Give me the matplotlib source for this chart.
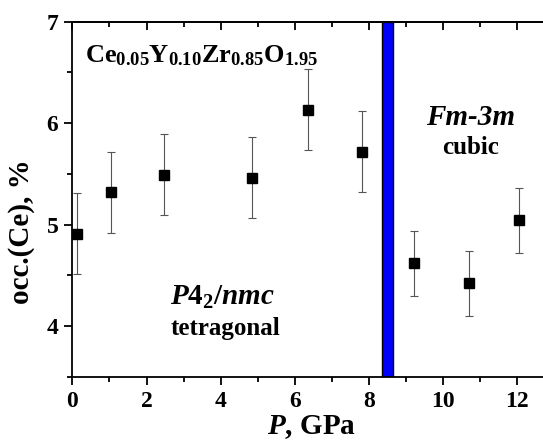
import numpy as np
import matplotlib
matplotlib.use('Agg')
import matplotlib.pyplot as plt
from matplotlib.ticker import MultipleLocator

# font setup: Times-like bold serif everywhere
plt.rcParams['font.family'] = 'Liberation Serif'
plt.rcParams['font.weight'] = 'bold'
plt.rcParams['mathtext.fontset'] = 'custom'
plt.rcParams['mathtext.rm'] = 'Liberation Serif:bold'
plt.rcParams['mathtext.bf'] = 'Liberation Serif:bold'
plt.rcParams['mathtext.it'] = 'Liberation Serif:bold:italic'

# pressure (GPa), Ce occupancy (%) and error bars
pressure = [0.12, 1.05, 2.46, 4.85, 6.36, 7.82, 9.21, 10.70, 12.05]
occ = [4.91, 5.32, 5.49, 5.46, 6.13, 5.72, 4.62, 4.42, 5.04]
occErr = [0.40, 0.40, 0.40, 0.40, 0.40, 0.40, 0.32, 0.32, 0.32]

# phase transition region
transition = [8.35, 8.65]

fig = plt.figure(figsize=(5.43, 4.48), dpi=100)
ax = fig.add_axes([0.1332, 0.1592, 0.8668, 0.7924])

ax.axvspan(transition[0], transition[1], facecolor='#0000ff', edgecolor='black', lw=1, zorder=1)

ax.errorbar(pressure, occ, yerr=occErr, fmt='s', color='black', ms=7.2,
            ecolor='#555555', elinewidth=0.8, capsize=2.8, capthick=0.8, zorder=3)

ax.set_xlim(0, 12.69)
ax.set_ylim(3.5, 7)
ax.xaxis.set_major_locator(MultipleLocator(2))
ax.xaxis.set_minor_locator(MultipleLocator(1))
ax.yaxis.set_major_locator(MultipleLocator(1))
ax.yaxis.set_minor_locator(MultipleLocator(0.5))

ax.spines['right'].set_visible(False)
for s in ['left', 'bottom', 'top']:
    ax.spines[s].set_linewidth(1.3)

ax.tick_params(which='both', direction='out', top=False, right=False, width=1.3, labelsize=17)
ax.tick_params(which='major', length=6, pad=4)
ax.tick_params(which='minor', length=3.5)

# inward ticks on top axis
top = ax.secondary_xaxis('top')
top.xaxis.set_major_locator(MultipleLocator(2))
top.xaxis.set_minor_locator(MultipleLocator(1))
top.tick_params(which='both', direction='in', width=1.3, labeltop=False)
top.tick_params(which='major', length=6)
top.tick_params(which='minor', length=3.5)
top.spines['top'].set_linewidth(1.3)

ax.set_xlabel(r'$\mathit{P}$, GPa', fontsize=21, fontweight='bold')
ax.set_ylabel('occ.(Ce), %', fontsize=21, fontweight='bold')
ax.xaxis.set_label_coords(0.508, -0.102)
ax.yaxis.set_label_coords(-0.079, 0.41)

ax.text(0.34, 6.60, r'Ce$_{0.05}$Y$_{0.10}$Zr$_{0.85}$O$_{1.95}$', fontsize=19, fontweight='bold')
ax.text(10.74, 5.98, 'Fm-3m', fontsize=21, fontweight='bold', style='italic', ha='center')
ax.text(10.74, 5.70, 'cubic', fontsize=18, fontweight='bold', ha='center')
ax.text(4.06, 4.21, r'$\mathit{P}\mathrm{4}_{\mathrm{2}}/\mathit{nmc}$', fontsize=21, ha='center')
ax.text(4.13, 3.91, 'tetragonal', fontsize=18, fontweight='bold', ha='center')

fig.savefig('out.png', dpi=100)
